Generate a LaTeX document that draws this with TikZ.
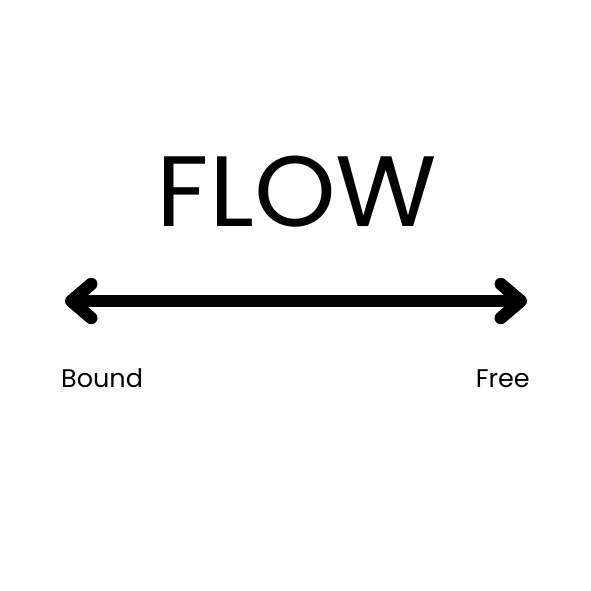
\documentclass[tikz,border=0pt]{standalone}
\usepackage{fontspec}
\setmainfont{Poppins}
\usetikzlibrary{arrows.meta}

\begin{document}
\begin{tikzpicture}[x=1pt,y=-1pt,>={Straight Barb[round,length=20pt,width=34pt]}]
\useasboundingbox (0,0) rectangle (591,591);
\coordinate (bound) at (65,301);
\coordinate (free) at (527,301);
% title
\node[anchor=base,inner sep=0pt,font=\fontsize{100}{100}\selectfont,xscale=1.04] (flow) at (297,226) {FLOW};
% double arrow between the two ends
\draw[<->,line width=12.5pt] (bound) -- (free);
% end labels
\node[anchor=base west,inner sep=0pt,font=\fontsize{25.5}{26}\selectfont] (boundlabel) at (61,387) {Bound};
\node[anchor=base east,inner sep=0pt,font=\fontsize{25.5}{26}\selectfont] (freelabel) at (530,387) {Free};
\end{tikzpicture}
\end{document}
